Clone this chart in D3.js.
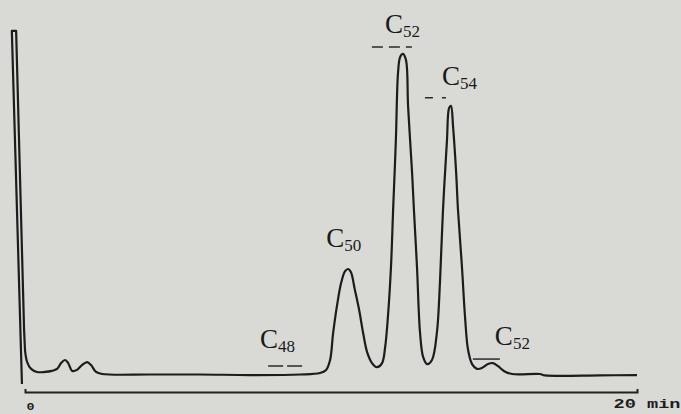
<!DOCTYPE html>
<html>
<head>
<meta charset="utf-8">
<script src="https://cdn.jsdelivr.net/npm/d3@7"></script>
<style>
  body { margin: 0; background: #d8d9d5; }
  svg { display: block; }
</style>
</head>
<body>
<div class="chart"></div>
<script>
// recorder trace: time in min, detector signal in % of solvent peak
var traceTime = [-0.10, -0.43, -0.29, -0.03, 0.00, 0.07, 0.20, 0.39, 0.65, 0.88,
  1.05, 1.18, 1.31, 1.41, 1.54, 1.70, 1.86, 2.03, 2.16, 2.32,
  2.52, 4.09, 5.72, 7.35, 8.99, 9.64, 9.84, 9.97, 10.07, 10.20,
  10.33, 10.46, 10.56, 10.65, 10.78, 10.92, 11.05, 11.18, 11.34, 11.50,
  11.67, 11.77, 11.86, 11.96, 12.03, 12.12, 12.19, 12.26, 12.35, 12.45,
  12.52, 12.65, 12.71, 12.81, 12.91, 13.01, 13.14, 13.30, 13.46, 13.56,
  13.66, 13.79, 13.86, 13.92, 13.99, 14.09, 14.15, 14.28, 14.38, 14.48,
  14.61, 14.77, 14.94, 15.13, 15.29, 15.46, 15.65, 15.92, 16.83, 16.99,
  18.79, 20.00];
var traceSignal = [-2.9, 100.3, 100.3, 12.9, 7.0, 3.5, 1.5, 0.6, 0.6, 0.9,
  1.5, 3.2, 4.1, 3.2, 0.9, 1.2, 2.6, 3.5, 2.6, 0.6,
  0.0, -0.15, -0.15, -0.3, -0.15, 0.3, 1.2, 4.1, 12.0, 20.2,
  26.6, 30.1, 30.7, 29.8, 24.6, 18.7, 12.0, 6.4, 3.2, 2.0,
  3.2, 7.9, 16.7, 31.3, 48.0, 68.4, 88.0, 92.7, 93.6, 91.8,
  78.1, 58.8, 48.0, 31.3, 12.0, 5.0, 2.9, 4.1, 12.0, 26.6,
  48.0, 68.4, 77.8, 78.4, 72.2, 58.8, 48.0, 31.3, 16.7, 7.0,
  2.9, 1.5, 1.8, 2.9, 3.2, 2.3, 0.9, 0.0, 0.0, -0.4,
  -0.4, -0.3];

// peak labels
var peakBase = ["C", "C", "C", "C", "C"];
var peakSub = ["48", "50", "52", "54", "52"];
var peakTime = [8.50, 10.56, 12.35, 13.92, 15.29];
var peakSignal = [0.0, 30.7, 93.6, 78.4, 3.2];

// axis
var axisTicks = [0, 20];
var axisLabels = ["0", "20 min"];

var svgWidth = 681;
var svgHeight = 414;

// label layout (pixels, relative to the peak top)
var labelLayout = [
  { dx: -25, dy: -26, mark: { x1: -17, x2: 17, dy: -8, dash: "15,4" } },
  { dx: -22, dy: -22, mark: null },
  { dx: -18, dy: -21, mark: { x1: -31, x2: 9, dy: -7, dash: "11,6" } },
  { dx: -9, dy: -21, mark: { x1: -26, x2: -5, dy: -8, dash: "8,9" } },
  { dx: 2, dy: -18, mark: { x1: -20, x2: 7, dy: -4, dash: null } }
];

var svg = d3.select(".chart")
  .append("svg")
  .attr("width", svgWidth)
  .attr("height", svgHeight);

svg.append("rect")
  .attr("width", svgWidth)
  .attr("height", svgHeight)
  .attr("fill", "#d9dad6");

var xScale = d3.scaleLinear()
  .domain([0, 20])
  .range([25, 637]);

var yScale = d3.scaleLinear()
  .domain([0, 100])
  .range([374, 32]);

// time axis
var bottomAxis = d3.axisBottom(xScale)
  .tickValues(axisTicks)
  .tickSizeInner(0)
  .tickSizeOuter(-3)
  .tickPadding(0)
  .tickFormat((d, i) => axisLabels[i]);

var axisGroup = svg.append("g")
  .attr("transform", "translate(0, 392)")
  .call(bottomAxis);

axisGroup.select(".domain")
  .attr("stroke", "#222")
  .attr("stroke-width", 2);

axisGroup.selectAll(".tick line").remove();

axisGroup.selectAll(".tick text")
  .attr("fill", "#1e1e1e")
  .attr("font-family", "Liberation Mono, DejaVu Sans Mono, monospace")
  .attr("font-weight", "bold")
  .attr("text-anchor", "start")
  .attr("dy", null)
  .attr("y", (d, i) => i == 0 ? 18 : 16)
  .attr("x", (d, i) => i == 0 ? 1 : -24)
  .attr("font-size", (d, i) => i == 0 ? 11 : 12)
  .attr("lengthAdjust", "spacingAndGlyphs")
  .attr("textLength", (d, i) => i == 0 ? 8 : 67);

// the pen trace: solvent front drawn straight, the rest smoothed
var traceData = traceTime.map((t, i) => ({ t: t, s: traceSignal[i] }));

var straight = d3.line()
  .x(d => xScale(d.t))
  .y(d => yScale(d.s));

var smooth = d3.line()
  .x(d => xScale(d.t))
  .y(d => yScale(d.s))
  .curve(d3.curveCatmullRom.alpha(0.5));

svg.append("path")
  .attr("d", straight(traceData.slice(0, 5)) + smooth(traceData.slice(4)).replace(/^M[^C]*/, ""))
  .attr("fill", "none")
  .attr("stroke", "#1c1c1c")
  .attr("stroke-width", 2.2)
  .attr("stroke-linejoin", "round");

// peak labels with their little marker lines
peakSub.forEach(function(sub, i) {
  var px = xScale(peakTime[i]);
  var py = yScale(peakSignal[i]);
  var lay = labelLayout[i];

  var label = svg.append("text")
    .attr("x", px + lay.dx)
    .attr("y", py + lay.dy)
    .attr("fill", "#1a1a1a")
    .attr("font-family", "Liberation Serif, Times New Roman, serif");

  label.append("tspan")
    .attr("font-size", 27)
    .text(peakBase[i]);

  label.append("tspan")
    .attr("font-size", 17)
    .attr("dy", 4)
    .text(sub);

  if (lay.mark) {
    svg.append("line")
      .attr("x1", px + lay.mark.x1)
      .attr("x2", px + lay.mark.x2)
      .attr("y1", py + lay.mark.dy)
      .attr("y2", py + lay.mark.dy)
      .attr("stroke", "#2a2a2a")
      .attr("stroke-width", 1.5)
      .attr("stroke-dasharray", lay.mark.dash);
  }
});
</script>
</body>
</html>
